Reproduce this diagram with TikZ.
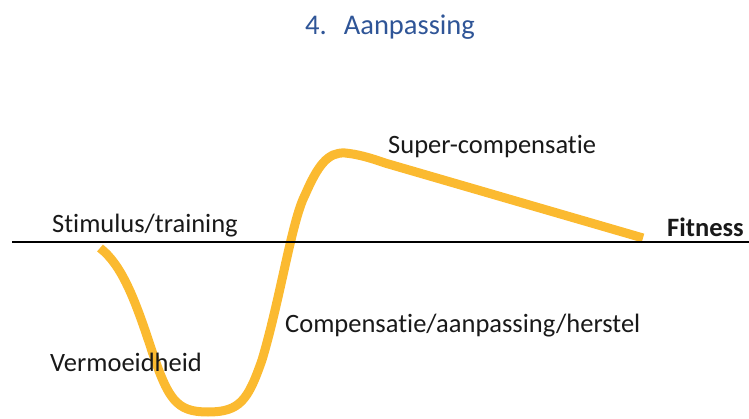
\documentclass[tikz,border=0pt]{standalone}
\usepackage{fontspec}
\setmainfont{Carlito}[Ligatures={NoCommon}]
\usepackage{tikz}
\usetikzlibrary{positioning}
\definecolor{curvecol}{RGB}{251,186,48}
\definecolor{titleblue}{RGB}{47,85,151}

\begin{document}
\begin{tikzpicture}[x=1pt, y=-1pt,
    phase/.style={font=\fontsize{26.5}{30}\selectfont, text=black!90, inner sep=0pt, anchor=base west},
    heading/.style={font=\fontsize{28.5}{32}\selectfont, text=titleblue, inner sep=0pt, anchor=base},
    axis/.style={line width=2.6pt},
    fitcurve/.style={line width=9pt, draw=curvecol}
]
    \useasboundingbox (0,0) rectangle (749,419);

    % Title
    \node[heading] (title) at (390,35) {4.\hspace{0.6em}Aanpassing};

    % Fitness curve: fatigue dip, recovery, super-compensation
    \coordinate (dipstart) at (100,248);
    \coordinate (dipbottom) at (208,412);
    \coordinate (peak) at (345,153);
    \coordinate (fitend) at (643,238);
    \draw[fitcurve] (dipstart)
        .. controls (122,265) and (135,300) .. (150,345)
        .. controls (168,400) and (176,412) .. (dipbottom)
        .. controls (240,412) and (248,400) .. (262,360)
        .. controls (280,300) and (292,220) .. (305,195)
        .. controls (318,165) and (328,152) .. (peak)
        .. controls (356,154) and (368,157) .. (385,163)
        -- (fitend);

    % Base line
    \coordinate (axisleft) at (12,242);
    \coordinate (axisright) at (749,242);
    \draw[axis] (axisleft) -- (axisright);

    % Phases
    \node[phase] (stimulus) at (52,233) {Stimulus/training};
    \node[phase] (supercomp) at (388,154) {Super-compensatie};
    \node[phase] (recovery) at (285,333) {Compensatie/aanpassing/herstel};
    \node[phase] (fatigue) at (50,371) {Vermoeidheid};
    \node[phase, font=\fontsize{26.5}{30}\selectfont\bfseries] (fitness) at (667,237) {Fitness};
\end{tikzpicture}
\end{document}
